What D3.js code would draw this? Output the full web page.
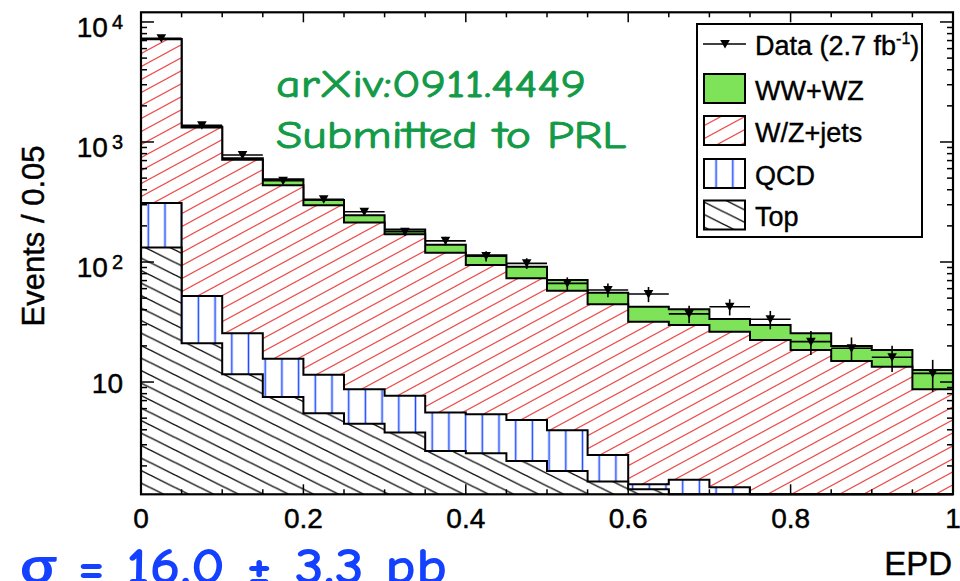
<!DOCTYPE html>
<html>
<head>
<meta charset="utf-8">
<script src="https://cdn.jsdelivr.net/npm/d3@7"></script>
<style>
  html, body { margin: 0; padding: 0; background: #fff; }
  svg { display: block; }
</style>
</head>
<body>
<svg id="chart" width="960" height="581"></svg>
<script>
// ---- histogram contents (events per 0.05 in EPD) ----
const binLow = [0.00, 0.05, 0.10, 0.15, 0.20, 0.25, 0.30, 0.35, 0.40, 0.45,
                0.50, 0.55, 0.60, 0.65, 0.70, 0.75, 0.80, 0.85, 0.90, 0.95];
const binWidth = 0.05;

const dataCounts = [7310, 1380, 780, 475, 333, 262, 179, 150, 112, 97.5,
                    66.4, 58.5, 54.1, 37.0, 42.4, 33.3, 21.7, 19.1, 16.1, 11.8];
const dataErrors = [86, 37, 28, 22, 18, 16, 13, 12, 11, 10,
                    8.1, 7.6, 7.8, 6.1, 6.5, 5.8, 4.9, 4.4, 4.0, 3.5];

const wwwzCounts   = [45, 22, 19, 53, 32, 32, 16, 19.5, 19.6, 18.3,
                      13.1, 11.1, 10.6, 10.5, 7.3, 7.5, 7.0, 4.95, 5.1, 3.9];
const wzJetsCounts = [6870, 1268, 686, 420, 285, 205, 163, 114, 89, 68.3,
                      53.7, 41.9, 30.4, 28.4, 24.9, 22.4, 18.5, 15.0, 13.4, 8.7];
const qcdCounts    = [178, 31.1, 13.9, 8.1, 6.0, 4.2, 3.9, 2.9, 2.83, 2.62,
                      2.15, 0.98, 0.13, 1.53, 1.33, 0, 0, 0, 0, 0];
const topCounts    = [132, 21.0, 11.6, 7.5, 5.5, 4.5, 3.8, 2.66, 2.55, 2.2,
                      1.81, 1.48, 1.28, 0, 0, 0, 0, 0, 0, 0];

// ---- axis ticks and labels ----
const xMajorTicks = [0, 0.2, 0.4, 0.6, 0.8, 1];
const xTickLabels = ["0", "0.2", "0.4", "0.6", "0.8", "1"];
const yMajorTicks = [10, 100, 1000, 10000];
const yTickBase = ["10", "10", "10", "10"];
const yTickExp  = ["", "2", "3", "4"];

const legendLabels = ["Data (2.7 fb", "WW+WZ", "W/Z+jets", "QCD", "Top"];

// ---- layout ----
const plot = { left: 141, right: 953, top: 12.3, bottom: 494.3 };
const yMin = 1.16, yMax = 12040;
const FONT = "'Liberation Sans', Arial, Helvetica, sans-serif";

const svg = d3.select("#chart");
const defs = svg.append("defs");

const x = d3.scaleLinear().domain([0, 1]).range([plot.left, plot.right]);
const y = d3.scaleLog().domain([yMin, yMax]).range([plot.bottom, plot.top]).clamp(true);
const yv = v => (v <= yMin ? y(yMin) : y(v));

// ---- fill patterns ----
function pattern(id, w, h, d, color, sw, xOff) {
  const p = defs.append("pattern")
    .attr("id", id)
    .attr("patternUnits", "userSpaceOnUse")
    .attr("x", xOff || 0).attr("y", 0)
    .attr("width", w).attr("height", h);
  p.append("path").attr("d", d).attr("fill", "none")
    .attr("stroke", color).attr("stroke-width", sw);
}
// rising diagonal lines for W/Z+jets
pattern("wzjHatch", 24, 13,
  "M-6,3.25 L6,-3.25 M0,13 L24,0 M18,16.25 L30,9.75", "#ec4f4f", 1.2);
// falling diagonal lines for top
pattern("topHatch", 25, 12.5,
  "M0,0 L25,12.5 M-6.25,9.375 L6.25,15.625 M18.75,-3.125 L31.25,3.125", "#1a1a1a", 1.5);
// vertical lines for QCD
pattern("qcdHatch", 16.7, 10, "M8.35,-1 L8.35,11", "#1f4cff", 1.6, 139.95);

const styles = {
  wwwz:  [{ fill: "#7fe35a" }],
  wzj:   [{ fill: "#ffffff" }, { fill: "url(#wzjHatch)" }],
  qcd:   [{ fill: "#ffffff" }, { fill: "url(#qcdHatch)" }],
  top:   [{ fill: "#ffffff" }, { fill: "url(#topHatch)" }]
};

// ---- cumulative stack ----
const cumTop  = topCounts.slice();
const cumQcd  = cumTop.map((v, i) => v + qcdCounts[i]);
const cumWzj  = cumQcd.map((v, i) => v + wzJetsCounts[i]);
const cumWwwz = cumWzj.map((v, i) => v + wwwzCounts[i]);

const line = d3.line();

function stepPoints(c) {
  const pts = [[x(0), yv(0)]];
  binLow.forEach((lo, i) => {
    pts.push([x(lo), yv(c[i])]);
    pts.push([x(lo + binWidth), yv(c[i])]);
  });
  pts.push([x(1), yv(0)]);
  return pts;
}

const histG = svg.append("g");
// drawn from the largest cumulative down, each covering the one before
[[cumWwwz, styles.wwwz], [cumWzj, styles.wzj], [cumQcd, styles.qcd], [cumTop, styles.top]]
  .forEach(([c, st]) => {
    const pts = stepPoints(c);
    st.forEach(s => {
      histG.append("path").attr("d", line(pts) + "Z")
        .attr("fill", s.fill).attr("stroke", "none");
    });
    histG.append("path").attr("d", line(pts))
      .attr("fill", "none").attr("stroke", "#000").attr("stroke-width", 2)
      .attr("stroke-linejoin", "miter");
  });

// ---- data points ----
const dataG = svg.append("g");
const markerPath = "M-4.8,-4 L4.8,-4 L0,4.5 Z";
binLow.forEach((lo, i) => {
  const cx = x(lo + binWidth / 2);
  const v = dataCounts[i], e = dataErrors[i];
  dataG.append("line")
    .attr("x1", x(lo)).attr("x2", x(lo + binWidth))
    .attr("y1", y(v)).attr("y2", y(v))
    .attr("stroke", "#000").attr("stroke-width", 1.6);
  dataG.append("line")
    .attr("x1", cx).attr("x2", cx)
    .attr("y1", yv(v - e)).attr("y2", y(v + e))
    .attr("stroke", "#000").attr("stroke-width", 1.6);
  dataG.append("path").attr("d", markerPath)
    .attr("transform", `translate(${cx},${y(v)})`)
    .attr("fill", "#000");
});

// ---- frame and ticks ----
const axG = svg.append("g").attr("stroke", "#000");
const xMinorTicks = d3.range(0, 21).map(k => k * 0.05);
xMinorTicks.forEach(t => {
  const major = xMajorTicks.some(m => Math.abs(m - t) < 1e-9);
  const len = major ? 10 : 5;
  axG.append("line").attr("x1", x(t)).attr("x2", x(t))
    .attr("y1", plot.bottom).attr("y2", plot.bottom - len).attr("stroke-width", 1.5);
  axG.append("line").attr("x1", x(t)).attr("x2", x(t))
    .attr("y1", plot.top).attr("y2", plot.top + len).attr("stroke-width", 1.5);
});
const yMinorTicks = [];
[1, 10, 100, 1000, 10000].forEach(p => {
  for (let k = 2; k <= 9; k++) {
    const v = k * p;
    if (v > yMin && v < yMax) yMinorTicks.push(v);
  }
});
yMinorTicks.concat(yMajorTicks).forEach(v => {
  const len = yMajorTicks.includes(v) ? 13 : 6;
  axG.append("line").attr("x1", plot.left).attr("x2", plot.left + len)
    .attr("y1", y(v)).attr("y2", y(v)).attr("stroke-width", 1.5);
  axG.append("line").attr("x1", plot.right).attr("x2", plot.right - len)
    .attr("y1", y(v)).attr("y2", y(v)).attr("stroke-width", 1.5);
});
axG.append("rect")
  .attr("x", plot.left).attr("y", plot.top)
  .attr("width", plot.right - plot.left).attr("height", plot.bottom - plot.top)
  .attr("fill", "none").attr("stroke-width", 2.2);

// ---- axis labels ----
const txtG = svg.append("g").attr("font-family", FONT).attr("fill", "#000")
  .attr("stroke", "#000").attr("stroke-width", 0.45);
xMajorTicks.forEach((t, i) => {
  txtG.append("text").attr("x", x(t)).attr("y", 528)
    .attr("text-anchor", "middle").attr("font-size", 28)
    .text(xTickLabels[i]);
});
yMajorTicks.forEach((v, i) => {
  const t = txtG.append("text").attr("x", 123)
    .attr("text-anchor", "end").attr("font-size", 28);
  if (yTickExp[i]) {
    t.attr("y", y(v) + 15);
    t.append("tspan").text(yTickBase[i]);
    t.append("tspan").attr("font-size", 20).attr("dx", 4).attr("dy", -8).text(yTickExp[i]);
  } else {
    t.attr("y", y(v) + 11).text(yTickBase[i]);
  }
});
txtG.append("text")
  .attr("transform", "translate(44,236) rotate(-90)")
  .attr("text-anchor", "middle").attr("font-size", 31)
  .text("Events / 0.05");
txtG.append("text").attr("x", 952).attr("y", 575)
  .attr("text-anchor", "end").attr("font-size", 33).text("EPD");

// ---- legend ----
const leg = svg.append("g").attr("font-family", FONT);
leg.append("rect").attr("x", 697).attr("y", 24).attr("width", 225).attr("height", 213)
  .attr("fill", "#fff").attr("stroke", "#000").attr("stroke-width", 2);
const rowY = [44, 88.5, 130.5, 173.5, 215];
const legStyles = [null, styles.wwwz, styles.wzj, styles.qcd, styles.top];
legendLabels.forEach((lab, i) => {
  const cy = rowY[i];
  if (i === 0) {
    leg.append("line").attr("x1", 703).attr("x2", 746).attr("y1", cy).attr("y2", cy)
      .attr("stroke", "#000").attr("stroke-width", 1.6);
    leg.append("path").attr("d", markerPath)
      .attr("transform", `translate(725,${cy})`).attr("fill", "#000");
  } else {
    legStyles[i].forEach(s => {
      leg.append("rect").attr("x", 704).attr("y", cy - 14.5).attr("width", 41).attr("height", 29)
        .attr("fill", s.fill);
    });
    leg.append("rect").attr("x", 704).attr("y", cy - 14.5).attr("width", 41).attr("height", 29)
      .attr("fill", "none").attr("stroke", "#000").attr("stroke-width", 2);
  }
  const t = leg.append("text").attr("x", 755).attr("y", cy + 11)
    .attr("font-size", 27).attr("fill", "#000")
    .attr("stroke", "#000").attr("stroke-width", 0.4);
  t.append("tspan").text(lab);
  if (i === 0) {
    t.append("tspan").attr("font-size", 16).attr("dy", -11).text("-1");
    t.append("tspan").attr("dy", 11).text(")");
  }
});

// ---- annotations ----
const NOTE_FONT = "'Comic Sans MS', 'Comic Neue', Lato, 'Open Sans', sans-serif";
svg.append("text").attr("x", 276).attr("y", 97)
  .attr("font-family", NOTE_FONT).attr("font-size", 38).attr("fill", "#139a48")
  .attr("stroke", "#139a48").attr("stroke-width", 0.9)
  .attr("textLength", 310).attr("lengthAdjust", "spacingAndGlyphs")
  .text("arXiv:0911.4449");
svg.append("text").attr("x", 276).attr("y", 148)
  .attr("font-family", NOTE_FONT).attr("font-size", 38).attr("fill", "#139a48")
  .attr("stroke", "#139a48").attr("stroke-width", 0.9)
  .attr("textLength", 350).attr("lengthAdjust", "spacingAndGlyphs")
  .text("Submitted to PRL");
svg.append("text").attr("x", 20).attr("y", 584)
  .attr("font-family", NOTE_FONT).attr("font-size", 52).attr("font-weight", "bold")
  .attr("fill", "#1440ff")
  .attr("textLength", 427).attr("lengthAdjust", "spacingAndGlyphs")
  .text("σ = 16.0 ± 3.3 pb");
</script>
</body>
</html>
